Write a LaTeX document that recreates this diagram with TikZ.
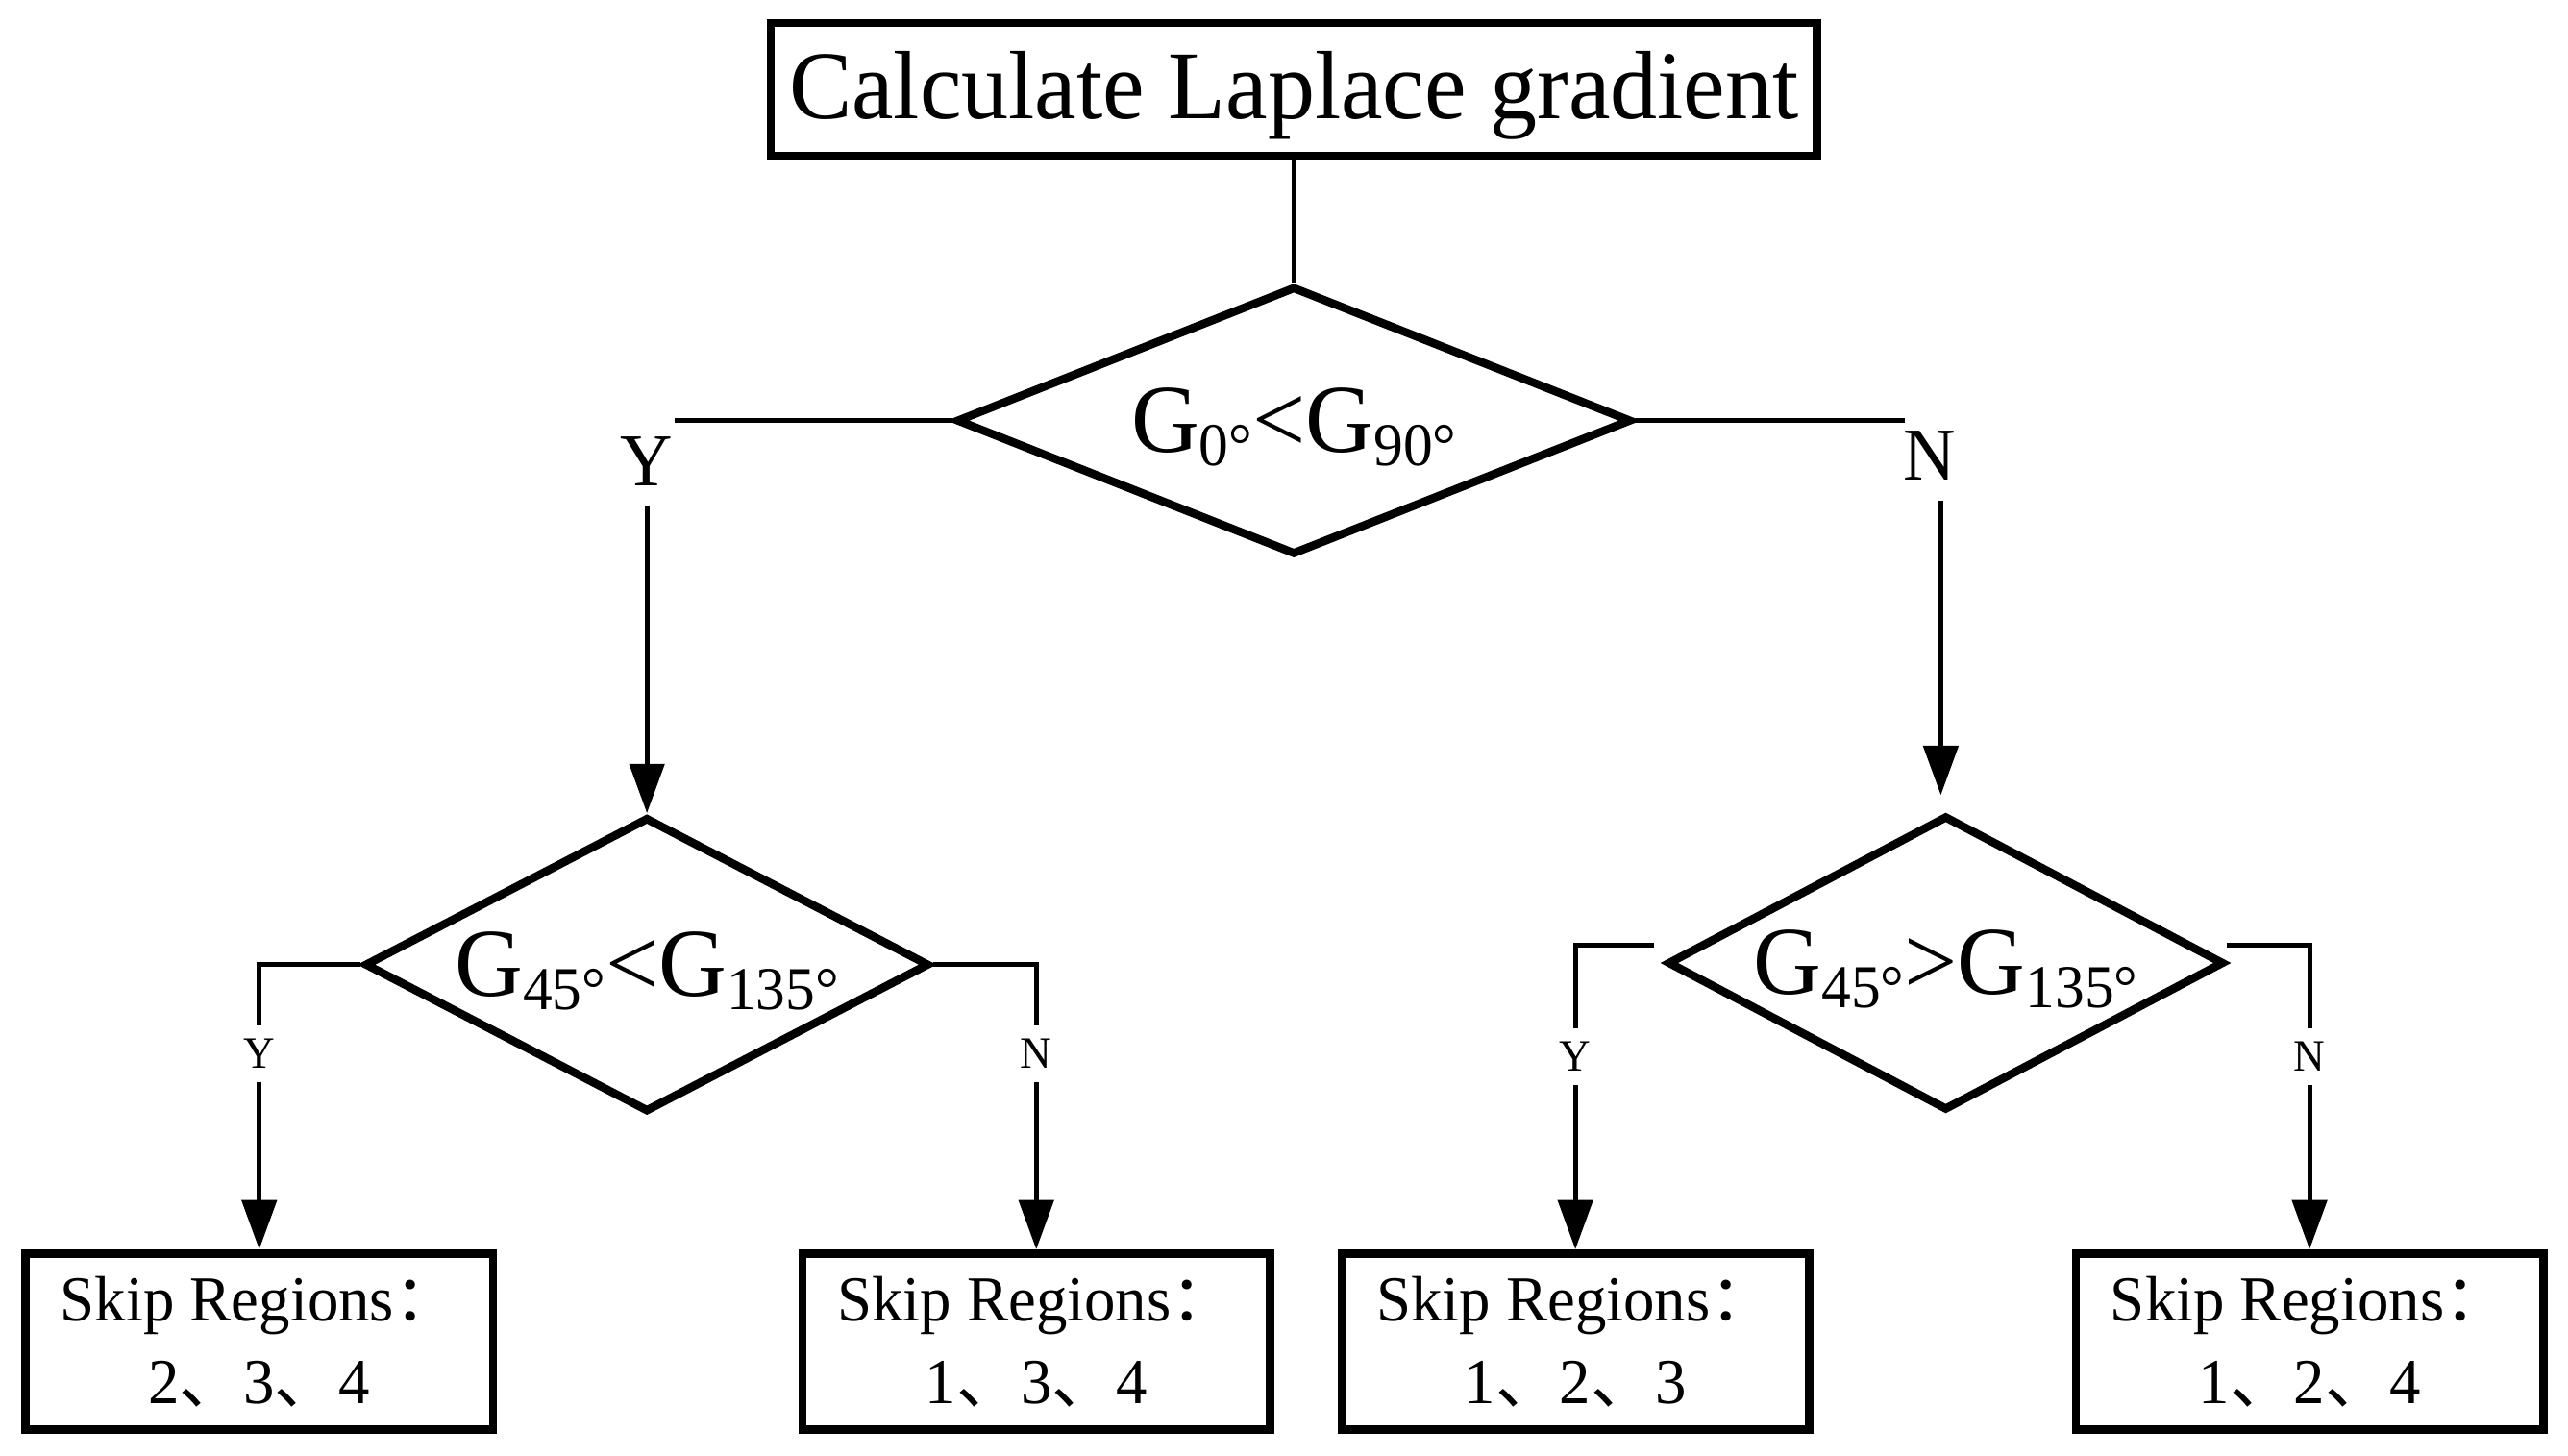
\documentclass[tikz,border=0pt]{standalone}
\usepackage{fontspec}
\setmainfont{Liberation Serif}[FakeStretch=0.97]
\newfontfamily\cjk{Noto Sans CJK SC}
\usetikzlibrary{shapes.geometric,arrows.meta,positioning}

\newcommand{\gsub}[1]{\raisebox{-4pt}[0pt][0pt]{\fontsize{18.5}{18.5}\selectfont #1}}

\tikzset{%
  % Specifications for style of nodes:
         base/.style = {rectangle, draw = black, line width=2.5pt, inner sep=0pt, font=\fontsize{29.5}{32}\selectfont},
     decision/.style = {diamond, draw = black, line width=2.5pt, inner sep=0pt, font=\fontsize{29.5}{32}\selectfont},
      skipbox/.style = {rectangle, draw = black, line width=2.5pt, inner sep=0pt, minimum width=142pt, minimum height=53.5pt, align=center, font=\fontsize{19.5}{25}\selectfont},
     biglabel/.style = {inner sep=6pt, font=\fontsize{22.7}{24}\selectfont},
   smalllabel/.style = {inner sep=4pt, font=\fontsize{13.6}{15}\selectfont},
  % Specifications for style of connectors:
         wire/.style = {line width=1.5pt},
         flow/.style = {line width=1.5pt, -{Triangle[length=15pt,width=10.5pt]}},
}

\begin{document}
\begin{tikzpicture}[x=0.5pt, y=-0.5pt]
    \useasboundingbox (0,0) rectangle (1560,884);

    % Draw nodes
    \node (calc)  [base, minimum width=317.75pt, minimum height=40.5pt, text depth=3.1pt] at (786,54.5) {Calculate Laplace gradient};
    \node (cmp1)  [decision, aspect=2.5, minimum width=205pt, minimum height=81.5pt] at (786,255.5) {G\gsub{0°}<G\gsub{90°}};
    \node (cmp2)  [decision, aspect=1.9, minimum width=171.5pt, minimum height=89.5pt] at (393,586) {G\gsub{45°}<G\gsub{135°}};
    \node (cmp3)  [decision, aspect=1.9, minimum width=169pt, minimum height=89.5pt] at (1182,585) {G\gsub{45°}>G\gsub{135°}};

    \node (skip1) [skipbox] at (157.5,815) {Skip Regions{\cjk ：}\\2{\cjk 、}3{\cjk 、}4};
    \node (skip2) [skipbox] at (629.5,815) {Skip Regions{\cjk ：}\\1{\cjk 、}3{\cjk 、}4};
    \node (skip3) [skipbox] at (957,815)   {Skip Regions{\cjk ：}\\1{\cjk 、}2{\cjk 、}3};
    \node (skip4) [skipbox] at (1403,815)  {Skip Regions{\cjk ：}\\1{\cjk 、}2{\cjk 、}4};

    % Draw labels
    \node (yes1)  [biglabel]   at (393,280)  {Y};
    \node (no1)   [biglabel]   at (1172,277) {N};
    \node (yes2)  [smalllabel] at (157.5,640) {Y};
    \node (no2)   [smalllabel] at (629.5,640) {N};
    \node (yes3)  [smalllabel] at (957,642)  {Y};
    \node (no3)   [smalllabel] at (1403,642) {N};

    \coordinate (yes1end) at (410,255.5);
    \coordinate (no1end)  at (1157,255.5);
    \coordinate (no1foot) at ([xshift=-1.5pt]cmp3.north);

    % Draw arrows
    \draw[wire]                      (calc) -- (cmp1);

    \draw[wire]                 (cmp1.west) -- (yes1end);
    \draw[flow]                (yes1.south) -- (cmp2.north);
    \draw[wire]                 (cmp1.east) -- (no1end);
    \draw[flow, shorten >=5pt] (no1.south -| no1foot) -- (no1foot);

    \draw[wire]                 (cmp2.west) -| (yes2.north);
    \draw[flow]                (yes2.south) -- (skip1.north);
    \draw[wire]                 (cmp2.east) -| (no2.north);
    \draw[flow]                 (no2.south) -- (skip2.north);

    \draw[wire]  ([shift={(-6,-11)}]cmp3.west) -| (yes3.north);
    \draw[flow]                (yes3.south) -- (skip3.north);
    \draw[wire]  ([shift={(-1,-11)}]cmp3.east) -| (no3.north);
    \draw[flow]                 (no3.south) -- (skip4.north);

\end{tikzpicture}
\end{document}
